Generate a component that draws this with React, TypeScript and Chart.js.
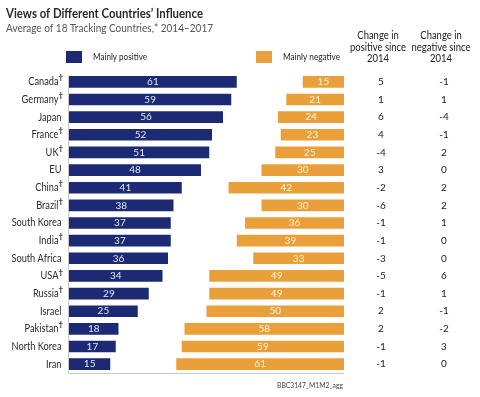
import React, { useEffect, useRef } from "react";
import { Chart, registerables } from "chart.js";

Chart.register(...registerables);

const countries = ["Canada", "Germany", "Japan", "France", "UK", "EU", "China", "Brazil", "South Korea", "India", "South Africa", "USA", "Russia", "Israel", "Pakistan", "North Korea", "Iran"];
const dagger = [true, true, false, true, true, false, true, true, false, true, false, true, true, false, true, false, false];
const positive = [61, 59, 56, 52, 51, 48, 41, 38, 37, 37, 36, 34, 29, 25, 18, 17, 15];
const negative = [15, 21, 24, 23, 25, 30, 42, 30, 36, 39, 33, 49, 49, 50, 58, 59, 61];
const changePositive = ["5", "1", "6", "4", "-4", "3", "-2", "-6", "-1", "-1", "-3", "-5", "-1", "2", "2", "-1", "-1"];
const changeNegative = ["-1", "1", "-4", "-1", "2", "0", "2", "2", "1", "0", "0", "6", "1", "-1", "-2", "3", "0"];

const TITLE = "Views of Different Countries\u2019 Influence";
const SUBTITLE = "Average of 18 Tracking Countries,* 2014\u20132017";
const LEGEND_POS = "Mainly positive";
const LEGEND_NEG = "Mainly negative";
const HEAD_POS = ["Change in", "positive since", "2014"];
const HEAD_NEG = ["Change in", "negative since", "2014"];
const FOOTNOTE = "BBC3147_M1M2_agg";

const BLUE = "#1b2a72";
const ORANGE = "#eaa03a";
const FONT = "Lato, sans-serif";

// draw text with a horizontal squeeze so it fits a target width (keeps height)
function drawText(ctx: CanvasRenderingContext2D, text: string, x: number, y: number, font: string, align: CanvasTextAlign, opts: { target?: number; scale?: number } = {}) {
  ctx.font = font;
  const w = ctx.measureText(text).width;
  let s = opts.scale ?? 1;
  if (opts.target) s = Math.min(1, opts.target / w);
  ctx.save();
  ctx.translate(x, y);
  ctx.scale(s, 1);
  ctx.textAlign = align;
  ctx.fillText(text, 0, 0);
  ctx.restore();
  return w * s;
}

export default function App() {
  const ref = useRef<HTMLCanvasElement>(null);
  useEffect(() => {
    document.body.style.margin = "0";
    const gap = positive.map((p, i) => 100 - p - negative[i]);
    const overlay = {
      id: "overlay",
      afterDraw(chart: any) {
        const ctx = chart.ctx;
        const ca = chart.chartArea;
        const y = chart.scales.y;
        ctx.save();
        // axes lines
        ctx.strokeStyle = "#c8c8c8";
        ctx.lineWidth = 1;
        ctx.beginPath();
        ctx.moveTo(ca.left - 0.5, ca.top + 2);
        ctx.lineTo(ca.left - 0.5, ca.bottom + 0.5);
        ctx.lineTo(ca.right, ca.bottom + 0.5);
        ctx.stroke();
        ctx.textBaseline = "middle";
        // title
        ctx.fillStyle = "#2b2b2b";
        drawText(ctx, TITLE, 6, 13, `bold 14px ${FONT}`, "left", { target: 197 });
        ctx.fillStyle = "#555";
        drawText(ctx, SUBTITLE, 6, 28, `12px ${FONT}`, "left", { target: 207 });
        // legend
        ctx.fillStyle = BLUE;
        ctx.fillRect(66, 51, 16, 12);
        ctx.fillStyle = ORANGE;
        ctx.fillRect(256, 51, 16, 12);
        ctx.fillStyle = "#222";
        drawText(ctx, LEGEND_POS, 93, 57, `10px ${FONT}`, "left", { target: 54 });
        drawText(ctx, LEGEND_NEG, 283, 57, `10px ${FONT}`, "left", { target: 57 });
        // headers
        HEAD_POS.forEach((t, i) => drawText(ctx, t, 378, 36 + i * 11.3, `10.5px ${FONT}`, "center", { scale: 0.9 }));
        HEAD_NEG.forEach((t, i) => drawText(ctx, t, 441, 36 + i * 11.3, `10.5px ${FONT}`, "center", { scale: 0.9 }));
        // country labels & changes
        countries.forEach((c, i) => {
          const py = y.getPixelForValue(i);
          ctx.fillStyle = "#2b2b2b";
          if (dagger[i]) {
            drawText(ctx, c, ca.left - 10.5, py, `10.5px ${FONT}`, "right", { scale: 0.88 });
            ctx.font = `bold 8px ${FONT}`;
            ctx.textAlign = "left";
            ctx.fillText("\u2020", ca.left - 10.5, py - 4);
          } else {
            drawText(ctx, c, ca.left - 7.5, py, `10.5px ${FONT}`, "right", { scale: 0.88 });
          }
          ctx.fillStyle = "#222";
          drawText(ctx, changePositive[i], 381, py, `10px ${FONT}`, "center");
          drawText(ctx, changeNegative[i], 444, py, `10px ${FONT}`, "center");
        });
        // bar value labels
        const mPos = chart.getDatasetMeta(0);
        const mNeg = chart.getDatasetMeta(2);
        mPos.data.forEach((el: any, i: number) => {
          ctx.fillStyle = "#e4e6f2";
          drawText(ctx, String(positive[i]), (el.base + el.x) / 2, el.y, `10px ${FONT}`, "center");
        });
        mNeg.data.forEach((el: any, i: number) => {
          ctx.fillStyle = "#fff3df";
          drawText(ctx, String(negative[i]), (el.base + el.x) / 2, el.y, `10px ${FONT}`, "center");
        });
        // footnote
        ctx.fillStyle = "#444";
        drawText(ctx, FOOTNOTE, 310, 385, `8px ${FONT}`, "center", { target: 66 });
        ctx.restore();
      },
    };
    const chart = new Chart(ref.current!, {
      type: "bar",
      data: {
        labels: countries,
        datasets: [
          { label: LEGEND_POS, data: positive, backgroundColor: BLUE },
          { label: "gap", data: gap, backgroundColor: "rgba(0,0,0,0)" },
          { label: LEGEND_NEG, data: negative, backgroundColor: ORANGE },
        ],
      },
      options: {
        indexAxis: "y",
        responsive: false,
        animation: false,
        layout: { padding: { left: 69, right: 136, top: 73, bottom: 24 } },
        datasets: { bar: { barPercentage: 0.66, categoryPercentage: 1 } },
        scales: {
          x: { stacked: true, min: 0, max: 100, display: false },
          y: { stacked: true, display: false },
        },
        plugins: { legend: { display: false }, tooltip: { enabled: false } },
      },
      plugins: [overlay],
    });
    return () => chart.destroy();
  }, []);
  return <canvas ref={ref} width={480} height={397} style={{ display: "block" }} />;
}
